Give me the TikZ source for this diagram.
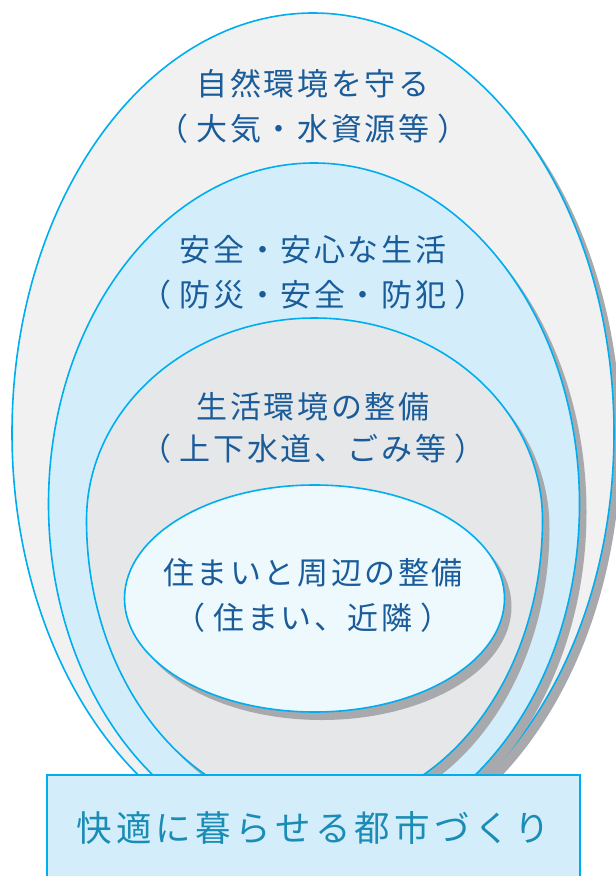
\documentclass[tikz,border=0pt]{standalone}
\usepackage{fontspec}
\newfontfamily\cjk{Noto Sans CJK JP}
\makeatletter
\newcommand\lsp[2]{\def\lsp@k{#1}\@tfor\lsp@c:=#2\do{\lsp@c\kern\lsp@k}\kern-\lsp@k}
\makeatother
\newcommand\paren[1]{（\kern8pt\lsp{2.6pt}{#1}\kern8pt）}
\definecolor{cyanline}{HTML}{00AEEF}
\definecolor{shadowgray}{HTML}{A7A9AC}
\definecolor{outerfill}{HTML}{F1F1F2}
\definecolor{secondfill}{HTML}{D3EEFA}
\definecolor{thirdfill}{HTML}{E6E7E8}
\definecolor{innerfill}{HTML}{EEF9FE}
\definecolor{boxfill}{HTML}{D3EEFA}
\definecolor{textblue}{HTML}{1A5C9A}
\definecolor{textteal}{HTML}{1A8CB5}
\tikzset{
  ringline/.style={draw=cyanline, line width=1.6pt},
  ringshadow/.style={fill=shadowgray, shift={(7,-8)}},
  lbl/.style={font=\cjk\fontsize{31}{36}\selectfont, text=textblue, inner sep=0pt, anchor=center},
  boxlbl/.style={font=\cjk\fontsize{35.5}{40}\selectfont, text=textteal, inner sep=0pt, anchor=center},
}
\begin{document}
\begin{tikzpicture}[x=1pt,y=1pt]
\useasboundingbox (0,0) rectangle (616,-876);
% outer ring
\fill[ringshadow] (614,-433) arc[start angle=0,end angle=180,x radius=301pt,y radius=420pt] arc[start angle=180,end angle=360,x radius=301pt,y radius=420pt] -- cycle;
\path[ringline, fill=outerfill] (614,-433) arc[start angle=0,end angle=180,x radius=301pt,y radius=420pt] arc[start angle=180,end angle=360,x radius=301pt,y radius=420pt] -- cycle;
% second ring
\fill[ringshadow] (579.5,-504) arc[start angle=0,end angle=180,x radius=265.5pt,y radius=341pt] arc[start angle=180,end angle=360,x radius=265.5pt,y radius=341pt] -- cycle;
\path[ringline, fill=secondfill] (579.5,-504) arc[start angle=0,end angle=180,x radius=265.5pt,y radius=341pt] arc[start angle=180,end angle=360,x radius=265.5pt,y radius=341pt] -- cycle;
% third ring
\fill[ringshadow] (542.5,-520) arc[start angle=0,end angle=180,x radius=228pt,y radius=202pt] arc[start angle=180,end angle=360,x radius=228pt,y radius=290pt] -- cycle;
\path[ringline, fill=thirdfill] (542.5,-520) arc[start angle=0,end angle=180,x radius=228pt,y radius=202pt] arc[start angle=180,end angle=360,x radius=228pt,y radius=290pt] -- cycle;
% inner
\fill[ringshadow] (504.5,-598.5) arc[start angle=0,end angle=180,x radius=190pt,y radius=113.5pt] arc[start angle=180,end angle=360,x radius=190pt,y radius=113.5pt] -- cycle;
\path[ringline, fill=innerfill] (504.5,-598.5) arc[start angle=0,end angle=180,x radius=190pt,y radius=113.5pt] arc[start angle=180,end angle=360,x radius=190pt,y radius=113.5pt] -- cycle;
% bottom box
\draw[draw=cyanline, line width=2.5pt, fill=boxfill] (47,-775) rectangle (580,-895);
% labels
\node[lbl] (o1) at (313,-84) {\lsp{2.6pt}{自然環境を守る}};
\node[lbl] (o2) at (313,-129) {\paren{大気・水資源等}};
\node[lbl] (s1) at (313,-250) {\lsp{2.6pt}{安全・安心な生活}};
\node[lbl] (s2) at (313,-295) {\paren{防災・安全・防犯}};
\node[lbl] (t1) at (313,-407) {\lsp{2.6pt}{生活環境の整備}};
\node[lbl] (t2) at (313,-449) {\paren{上下水道、ごみ等}};
\node[lbl] (i1) at (313,-573) {\lsp{2.6pt}{住まいと周辺の整備}};
\node[lbl] (i2) at (313,-618) {\paren{住まい、近隣}};
\node[boxlbl] (b1) at (313,-828) {\lsp{4.3pt}{快適に暮らせる都市づくり}};
\end{tikzpicture}
\end{document}
